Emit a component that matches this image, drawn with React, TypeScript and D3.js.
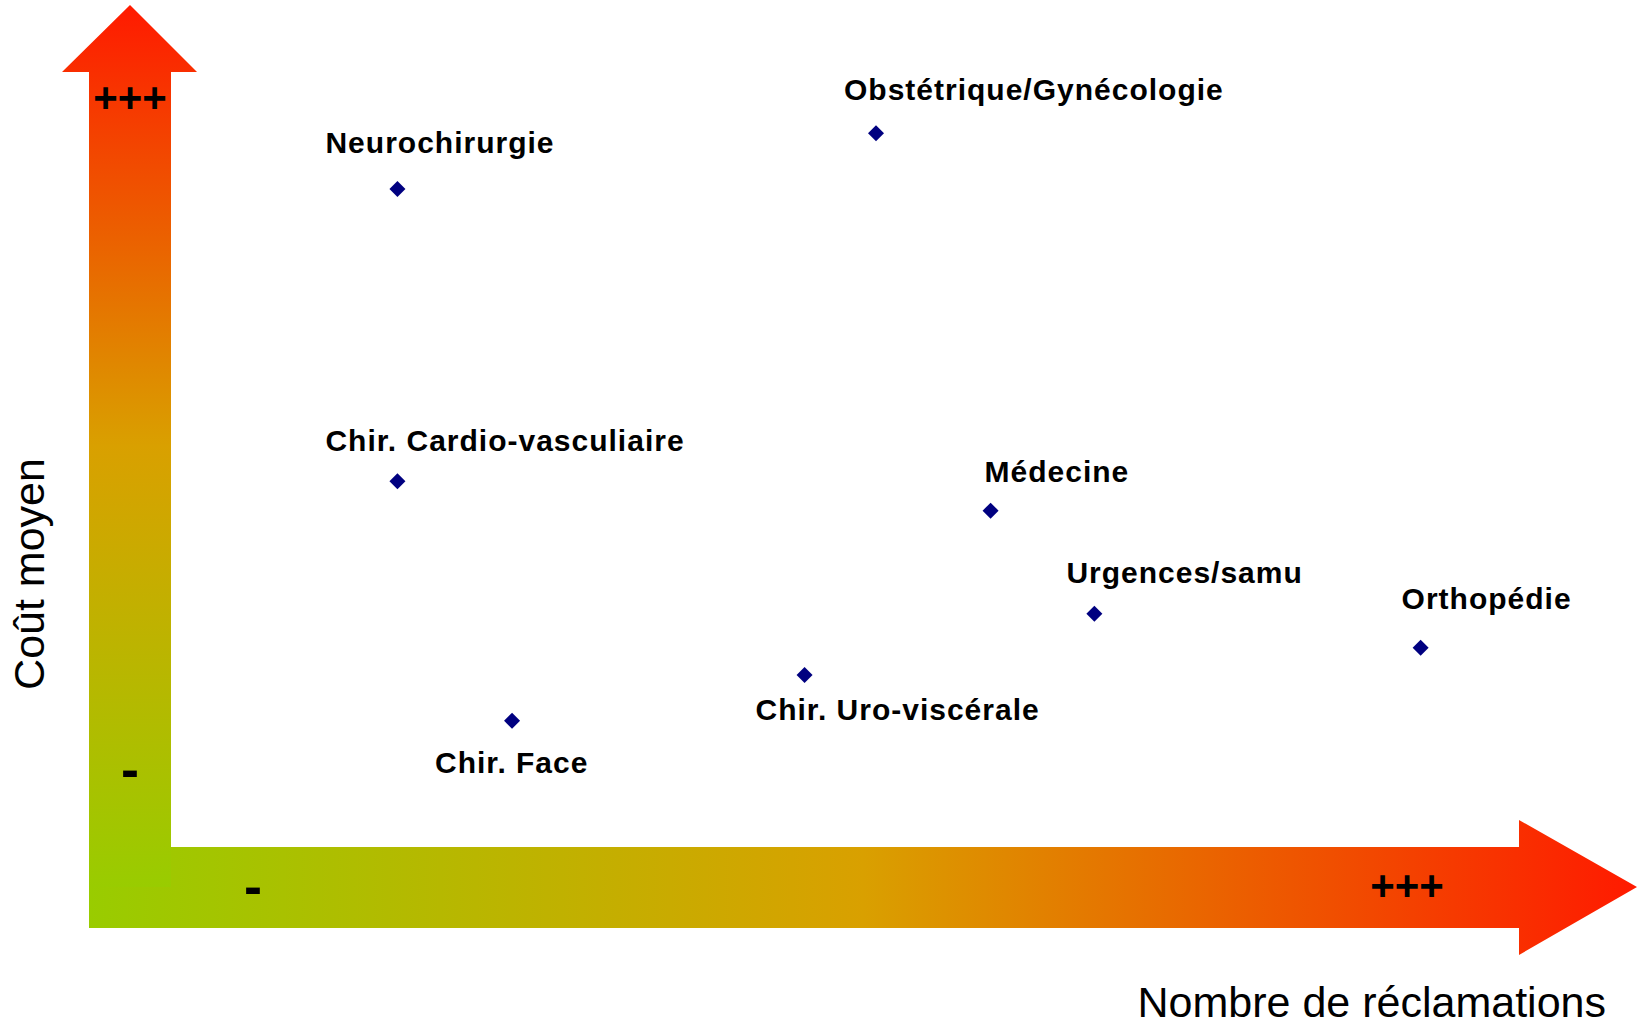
import React, { useEffect, useRef } from 'react';
import * as d3 from 'd3';

// specialties (0..100 on both axes)
const specialties = [
  'Neurochirurgie',
  'Obstétrique/Gynécologie',
  'Chir. Cardio-vasculiaire',
  'Médecine',
  'Urgences/samu',
  'Orthopédie',
  'Chir. Uro-viscérale',
  'Chir. Face',
];
const claims = [16.8, 52.3, 16.8, 60.8, 68.5, 92.7, 47.0, 25.3];
const avgCost = [84.9, 92.1, 47.2, 43.4, 30.1, 25.7, 22.2, 16.3];

const xTitle = 'Nombre de réclamations';
const yTitle = 'Coût moyen';
const lowMark = '-';
const highMark = '+++';

// label placement relative to the marker (px)
const labelOffset: Record<string, [number, number]> = {
  'Neurochirurgie': [-72, -36],
  'Obstétrique/Gynécologie': [-32, -33],
  'Chir. Cardio-vasculiaire': [-72, -30],
  'Médecine': [-6, -29],
  'Urgences/samu': [-28, -31],
  'Orthopédie': [-19, -39],
  'Chir. Uro-viscérale': [-49, 45],
  'Chir. Face': [-77, 52],
};

const W = 1637, H = 1025;
const FONT = '"Liberation Sans", Arial, sans-serif';

function App() {
  const ref = useRef<SVGSVGElement>(null);

  useEffect(() => {
    const svg = d3.select(ref.current);
    svg.selectAll('*').remove();

    const x = d3.scaleLinear().domain([0, 100]).range([171, 1519]);
    const y = d3.scaleLinear().domain([0, 100]).range([847, 72]);

    const defs = svg.append('defs');
    const stops = [
      [0, '#ff1a00'],
      [0.5, '#d9a000'],
      [1, '#99cc00'],
    ];
    const vg = defs.append('linearGradient').attr('id', 'gv')
      .attr('gradientUnits', 'userSpaceOnUse')
      .attr('x1', 0).attr('y1', 5).attr('x2', 0).attr('y2', 887);
    stops.forEach(s => vg.append('stop').attr('offset', s[0]).attr('stop-color', s[1]));
    const hg = defs.append('linearGradient').attr('id', 'gh')
      .attr('gradientUnits', 'userSpaceOnUse')
      .attr('x1', 1637).attr('y1', 0).attr('x2', 89).attr('y2', 0);
    stops.forEach(s => hg.append('stop').attr('offset', s[0]).attr('stop-color', s[1]));

    // horizontal arrow
    const hPts: [number, number][] = [
      [89, 847], [1519, 847], [1519, 820], [1637, 887],
      [1519, 955], [1519, 928], [89, 928],
    ];
    svg.append('path').attr('d', d3.line()(hPts) + 'Z').attr('fill', 'url(#gh)');

    // vertical arrow
    const vPts: [number, number][] = [
      [89, 887], [89, 72], [62, 72], [130, 5],
      [197, 72], [171, 72], [171, 887],
    ];
    svg.append('path').attr('d', d3.line()(vPts) + 'Z').attr('fill', 'url(#gv)');

    const marks = svg.append('g').attr('font-family', FONT).attr('font-weight', 'bold')
      .attr('fill', '#000').attr('text-anchor', 'middle');
    marks.append('text').attr('x', 130).attr('y', 112).attr('font-size', 42).text(highMark);
    marks.append('text').attr('x', 1407).attr('y', 900).attr('font-size', 42).text(highMark);
    marks.append('text').attr('x', 130).attr('y', 788).attr('font-size', 54).text(lowMark);
    marks.append('text').attr('x', 253).attr('y', 905).attr('font-size', 54).text(lowMark);

    // axis titles
    svg.append('text').attr('x', 1606).attr('y', 1017).attr('text-anchor', 'end')
      .attr('font-family', FONT).attr('font-size', 43).text(xTitle);
    svg.append('text').attr('transform', 'translate(44,574) rotate(-90)')
      .attr('text-anchor', 'middle')
      .attr('font-family', FONT).attr('font-size', 43).text(yTitle);

    const data = specialties.map((name, i) => ({ name, cx: x(claims[i]), cy: y(avgCost[i]) }));

    svg.append('g').selectAll('path').data(data).enter().append('path')
      .attr('d', d3.symbol(d3.symbolSquare, 128)())
      .attr('transform', d => `translate(${d.cx},${d.cy}) rotate(45)`)
      .attr('fill', '#000080');

    svg.append('g').selectAll('text').data(data).enter().append('text')
      .attr('x', d => d.cx + labelOffset[d.name][0])
      .attr('y', d => d.cy + labelOffset[d.name][1])
      .attr('font-family', FONT).attr('font-weight', 'bold').attr('font-size', 30)
      .attr('letter-spacing', 1)
      .text(d => d.name);
  }, []);

  return (
    <svg ref={ref} width={W} height={H}
      style={{ position: 'absolute', left: 0, top: 0, background: '#fff' }} />
  );
}

export default App;
